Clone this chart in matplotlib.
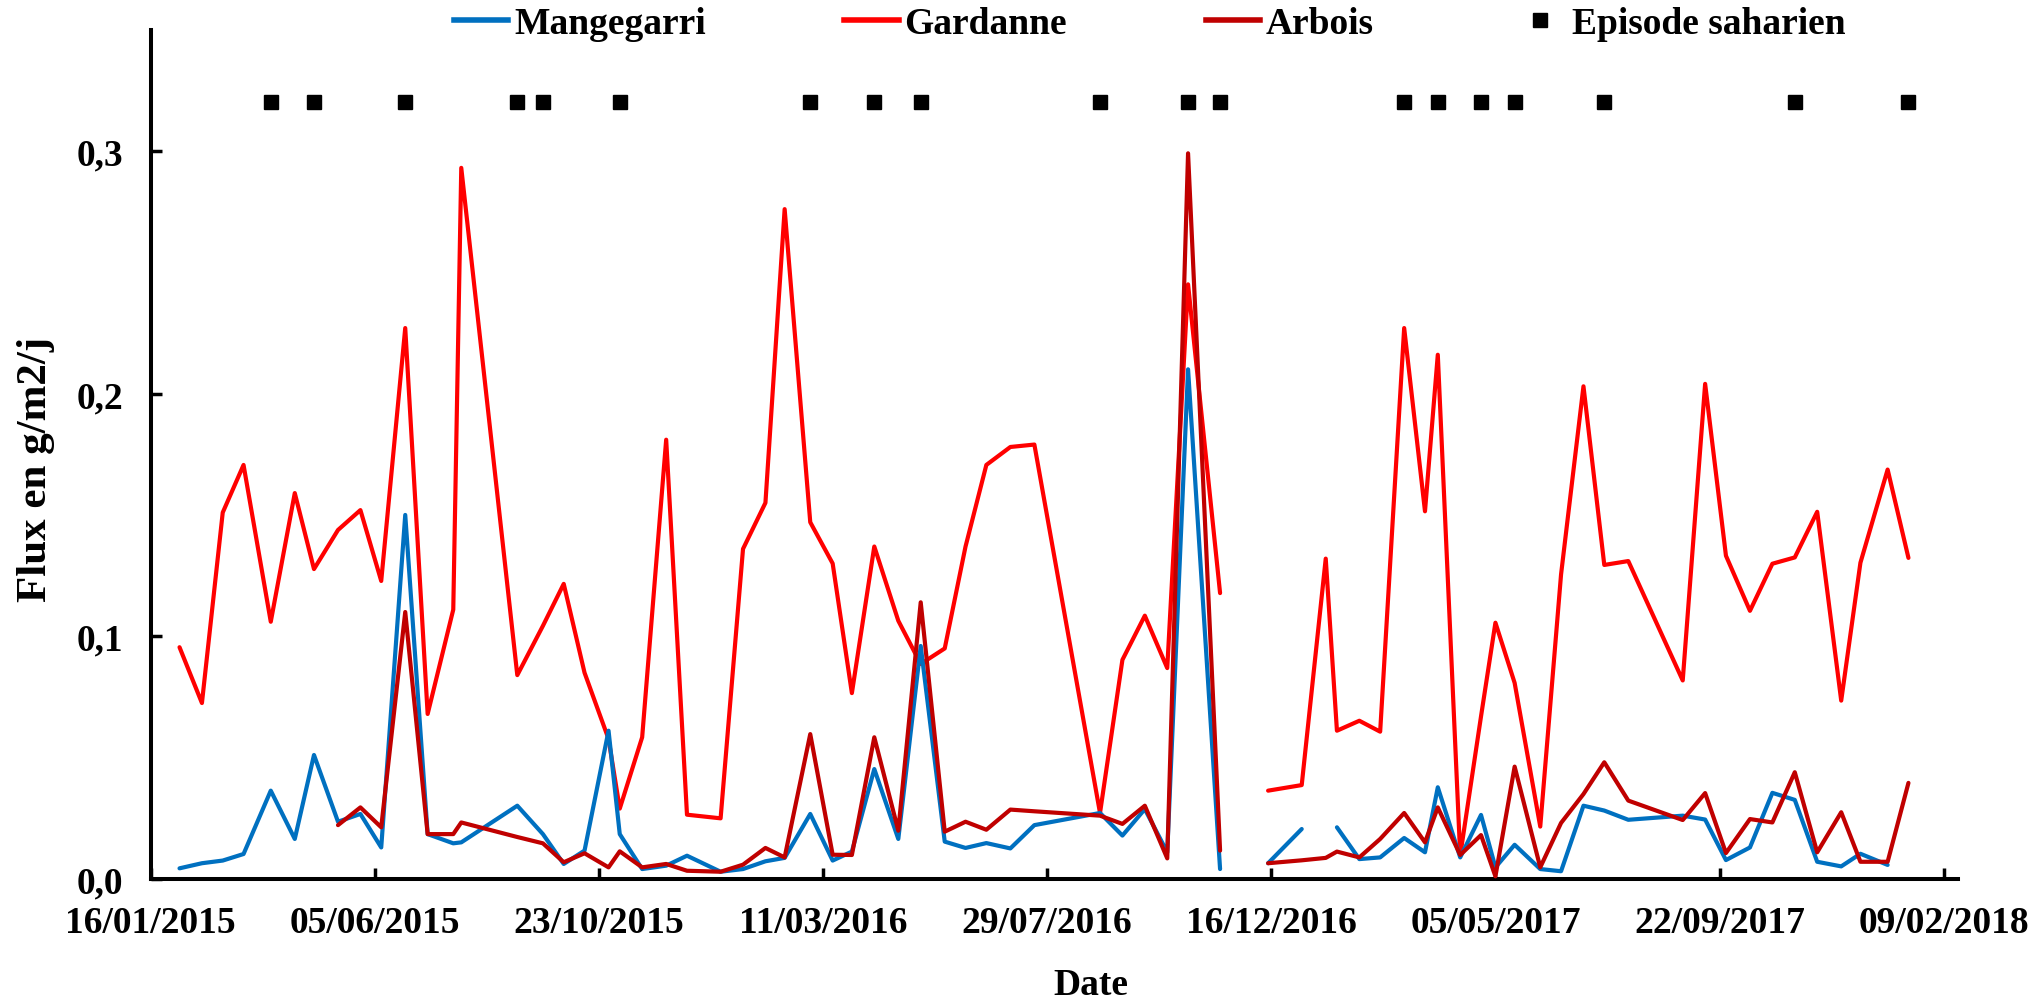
import matplotlib
matplotlib.use("Agg")
import matplotlib.pyplot as plt
import matplotlib.dates as mdates
from matplotlib.lines import Line2D
from matplotlib.ticker import FuncFormatter
import numpy as np
import pandas as pd

# ---------------- data ----------------
dates = [
    "2015-02-03", "2015-02-17", "2015-03-02", "2015-03-15", "2015-04-01", "2015-04-16",
    "2015-04-28", "2015-05-13", "2015-05-27", "2015-06-09", "2015-06-24", "2015-07-08",
    "2015-07-24", "2015-07-29", "2015-09-02", "2015-09-18", "2015-10-01", "2015-10-14",
    "2015-10-29", "2015-11-05", "2015-11-19", "2015-12-04", "2015-12-17", "2016-01-07",
    "2016-01-21", "2016-02-04", "2016-02-16", "2016-03-03", "2016-03-17", "2016-03-29",
    "2016-04-12", "2016-04-27", "2016-05-11", "2016-05-26", "2016-06-08", "2016-06-21",
    "2016-07-06", "2016-07-21", "2016-08-31", "2016-09-14", "2016-09-28", "2016-10-12",
    "2016-10-25", "2016-11-14", "2016-11-29", "2016-12-14", "2017-01-04", "2017-01-19",
    "2017-01-26", "2017-02-09", "2017-02-22", "2017-03-09", "2017-03-22", "2017-03-30",
    "2017-04-13", "2017-04-26", "2017-05-05", "2017-05-17", "2017-06-02", "2017-06-15",
    "2017-06-29", "2017-07-12", "2017-07-27", "2017-08-30", "2017-09-13", "2017-09-26",
    "2017-10-11", "2017-10-25", "2017-11-08", "2017-11-22", "2017-12-07", "2017-12-19",
    "2018-01-05", "2018-01-18",
]

nan = np.nan
mangegarri = [
    0.0044, 0.0065, 0.0076, 0.0103, 0.0364, 0.0165, 0.0511, 0.0236, 0.0268, 0.0130,
    0.1500, 0.0185, 0.0147, 0.0151, 0.0302, 0.0185, 0.0062, 0.0117, 0.0611, 0.0185,
    0.0041, 0.0055, 0.0096, 0.0030, 0.0041, 0.0073, 0.0087, 0.0268, 0.0076, 0.0113,
    0.0453, 0.0165, 0.0960, 0.0154, 0.0128, 0.0148, 0.0126, 0.0222, 0.0272, 0.0179,
    0.0288, 0.0110, 0.2100, 0.0041, nan, 0.0065, 0.0206, nan, 0.0213, 0.0082,
    0.0089, 0.0169, 0.0110, 0.0378, 0.0089, 0.0264, 0.0048, 0.0141, 0.0041, 0.0032,
    0.0302, 0.0282, 0.0244, 0.0261, 0.0245, 0.0078, 0.0130, 0.0355, 0.0326, 0.0071,
    0.0052, 0.0104, 0.0058, nan,
]
gardanne = [
    0.0955, 0.0725, 0.1510, 0.1706, 0.1060, 0.1590, 0.1277, 0.1438, 0.1520, 0.1228,
    0.2270, 0.0680, 0.1110, 0.2930, 0.0840, 0.1043, 0.1216, 0.0850, 0.0577, 0.0290,
    0.0584, 0.1810, 0.0265, 0.0250, 0.1360, 0.1550, 0.2760, 0.1470, 0.1300, 0.0766,
    0.1370, 0.1064, 0.0886, 0.0950, 0.1370, 0.1706, 0.1780, 0.1790, 0.0272, 0.0903,
    0.1085, 0.0869, 0.2450, 0.1178, nan, 0.0364, 0.0387, 0.1320, 0.0611, 0.0652,
    0.0607, 0.2270, 0.1515, 0.2160, 0.0097, 0.0670, 0.1056, 0.0808, 0.0216, 0.1255,
    0.2030, 0.1294, 0.1310, 0.0818, 0.2040, 0.1332, 0.1105, 0.1299, 0.1325, 0.1513,
    0.0735, 0.1303, 0.1687, 0.1323,
]
arbois = [
    nan, nan, nan, nan, nan, nan, nan, 0.0222, 0.0295, 0.0213,
    0.1100, 0.0185, 0.0185, 0.0233, 0.0173, 0.0147, 0.0069, 0.0106, 0.0048, 0.0114,
    0.0048, 0.0062, 0.0034, 0.0030, 0.0059, 0.0128, 0.0089, 0.0597, 0.0100, 0.0099,
    0.0584, 0.0199, 0.1140, 0.0195, 0.0236, 0.0203, 0.0286, 0.0279, 0.0261, 0.0227,
    0.0302, 0.0085, 0.2990, 0.0117, nan, 0.0065, 0.0077, 0.0087, 0.0113, 0.0089,
    0.0165, 0.0272, 0.0151, 0.0295, 0.0099, 0.0181, 0.0011, 0.0463, 0.0048, 0.0231,
    0.0350, 0.0481, 0.0323, 0.0243, 0.0354, 0.0107, 0.0247, 0.0233, 0.0440, 0.0110,
    0.0275, 0.0071, 0.0071, 0.0396,
]

episode_dates = [
    "2015-04-01", "2015-04-28", "2015-06-24", "2015-09-02", "2015-09-18", "2015-11-05",
    "2016-03-03", "2016-04-12", "2016-05-11", "2016-08-31", "2016-10-25", "2016-11-14",
    "2017-03-09", "2017-03-30", "2017-04-26", "2017-05-17", "2017-07-12", "2017-11-08",
    "2018-01-18",
]
episode_level = 0.32

tick_dates = ["2015-01-16", "2015-06-05", "2015-10-23", "2016-03-11", "2016-07-29",
              "2016-12-16", "2017-05-05", "2017-09-22", "2018-02-09"]
y_ticks = [0.0, 0.1, 0.2, 0.3]

# ---------------- plotting ----------------
plt.rcParams["font.family"] = ["Liberation Serif", "DejaVu Serif"]
plt.rcParams["font.weight"] = "bold"
FS = 27

x = pd.to_datetime(dates)
ex = pd.to_datetime(episode_dates)

fig = plt.figure(figsize=(20.42, 10.04), dpi=100)
ax = fig.add_axes([0.0738, 0.1235, 0.8851, 0.8461])

c_m, c_g, c_a = "#0070C0", "#FF0000", "#C00000"
kw = dict(lw=3.0, solid_joinstyle="round", solid_capstyle="round")
ax.plot(x, mangegarri, color=c_m, **kw, zorder=3)
ax.plot(x, gardanne, color=c_g, **kw, zorder=2)
ax.plot(x, arbois, color=c_a, **kw, zorder=4)
ax.plot(ex, [episode_level] * len(ex), ls="none", marker="s", ms=10,
        color="black", zorder=5)

ax.set_xlim(pd.Timestamp("2015-01-16"), pd.Timestamp("2018-02-18"))
ax.set_ylim(0, 0.35)
ax.set_xticks(pd.to_datetime(tick_dates))
ax.xaxis.set_major_formatter(mdates.DateFormatter("%d/%m/%Y"))
ax.set_yticks(y_ticks)
ax.yaxis.set_major_formatter(FuncFormatter(lambda v, _: f"{v:.1f}".replace(".", ",")))

for s in ("top", "right"):
    ax.spines[s].set_visible(False)
for s in ("left", "bottom"):
    ax.spines[s].set_linewidth(2.9)
    ax.spines[s].set_color("black")
ax.tick_params(axis="both", direction="in", length=8, width=2.5, labelsize=FS)
ax.tick_params(axis="x", pad=19)
ax.tick_params(axis="y", pad=20)
for lab in ax.get_xticklabels() + ax.get_yticklabels():
    lab.set_fontweight("bold")

fig.text(1091 / 2042, 1 - 986 / 1004, "Date", ha="center", va="center",
         fontsize=FS, fontweight="bold")
fig.text(36 / 2042, 1 - 469 / 1004, "Flux en g/m2/j", ha="center", va="center",
         rotation=90, fontsize=31, fontweight="bold")

handles = [
    Line2D([], [], color=c_m, lw=4),
    Line2D([], [], color=c_g, lw=4),
    Line2D([], [], color=c_a, lw=4),
    Line2D([], [], color="black", marker="s", ls="none", ms=10),
]
labels = ["Mangegarri", "Gardanne", "Arbois", "Episode saharien"]
fig.legend(handles, labels, loc="center", bbox_to_anchor=(1150 / 2042, 1 - 25 / 1004),
           ncol=4, frameon=False, handlelength=1.45, handletextpad=0.15,
           columnspacing=3.7, borderpad=0, prop={"weight": "bold", "size": FS})

fig.savefig("out.png", dpi=100)
